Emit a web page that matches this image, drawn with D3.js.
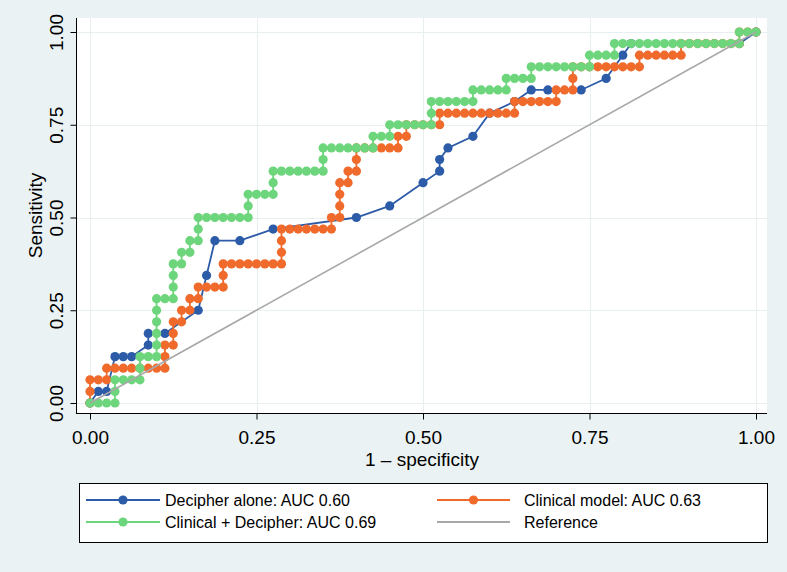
<!DOCTYPE html>
<html><head><meta charset="utf-8">
<script src="https://cdn.jsdelivr.net/npm/d3@7"></script>
<style>
html,body{margin:0;padding:0;background:#eaf2f3;}
svg{display:block;font-family:"Liberation Sans",Arial,Helvetica,sans-serif;}
</style>
</head><body>
<svg id="chart" width="787" height="572"></svg>
<script>
// ---- data (counts of false positives out of 80 negatives, true positives out of 32 positives) ----
const nNegatives = 80;
const nPositives = 32;

const decipherFP = [0,1,2,3,4,5,7,7,9,13,14,15,18,22,32,36,40,42,42,43,46,48,51,53,55,59,62,64,65,78,80];
const decipherTP = [0,1,1,4,4,4,5,6,6,8,11,14,14,15,16,17,19,20,21,22,23,25,26,27,27,27,28,30,31,31,32];

const clinicalFP = [0,0,0,1,2,2,3,4,5,6,7,8,9,9,9,10,10,10,11,11,12,12,13,13,14,15,16,16,16,17,18,19,20,21,22,23,23,23,23,24,25,26,27,28,29,29,30,30,30,30,31,31,32,32,32,33,34,35,36,37,37,38,38,39,40,41,42,42,43,44,45,46,47,48,49,50,51,51,52,53,54,55,56,56,57,58,58,58,59,60,61,62,63,64,65,66,66,67,68,69,70,71,71,72,73,74,75,76,77,78,78,79,80];
const clinicalTP = [0,1,2,2,2,3,3,3,3,3,3,3,3,4,5,5,6,7,7,8,8,9,9,10,10,10,10,11,12,12,12,12,12,12,12,12,13,14,15,15,15,15,15,15,15,16,16,17,18,19,19,20,20,21,22,22,22,22,22,22,23,23,24,24,24,24,24,25,25,25,25,25,25,25,25,25,25,26,26,26,26,26,26,27,27,27,28,29,29,29,29,29,29,29,29,29,30,30,30,30,30,30,31,31,31,31,31,31,31,31,32,32,32];

const combinedFP = [0,1,2,3,3,3,4,5,6,6,6,7,8,8,8,8,8,8,9,10,10,10,10,11,11,12,12,13,13,13,14,15,16,17,18,19,19,19,20,21,22,22,22,23,24,25,26,27,28,28,28,29,30,31,32,33,34,34,35,36,36,37,38,39,40,41,41,41,42,43,44,45,46,46,47,48,49,50,50,51,52,53,53,54,55,56,57,58,59,60,60,61,62,63,63,64,65,66,67,68,69,70,71,72,73,74,75,76,77,78,78,79,80];
const combinedTP = [0,0,0,0,1,2,2,2,2,3,4,4,4,5,6,7,8,9,9,9,10,11,12,12,13,13,14,14,15,16,16,16,16,16,16,16,17,18,18,18,18,19,20,20,20,20,20,20,20,21,22,22,22,22,22,22,22,23,23,23,24,24,24,24,24,24,25,26,26,26,26,26,26,27,27,27,27,27,28,28,28,28,29,29,29,29,29,29,29,29,30,30,30,30,31,31,31,31,31,31,31,31,31,31,31,31,31,31,31,31,32,32,32];

const referenceX = [0, 1];
const referenceY = [0, 1];

const tickValues = [0, 0.25, 0.5, 0.75, 1];
const legendLabels = ["Decipher alone: AUC 0.60", "Clinical model: AUC 0.63", "Clinical + Decipher: AUC 0.69", "Reference"];
const seriesColors = ["#2c5ba8", "#ef6a2b", "#6dd67c", "#a8a8a8"];

// ---- layout ----
const W = 787, H = 572;
const plot = {left: 77, right: 767, top: 18, bottom: 413};
const x = d3.scaleLinear().domain([0, 1]).range([90, 756]);
const y = d3.scaleLinear().domain([0, 1]).range([403, 32]);

const svg = d3.select("#chart");
svg.append("rect").attr("width", W).attr("height", H).attr("fill", "#eaf2f3");
svg.append("rect").attr("x", plot.left).attr("y", plot.top)
  .attr("width", plot.right - plot.left).attr("height", plot.bottom - plot.top).attr("fill", "#ffffff");

// gridlines
const grid = svg.append("g");
grid.selectAll("line.h").data(tickValues).join("line")
  .attr("x1", plot.left).attr("x2", plot.right)
  .attr("y1", d => Math.round(y(d)) + 0.5).attr("y2", d => Math.round(y(d)) + 0.5)
  .attr("stroke", "#e8eff1").attr("stroke-width", 1);
grid.selectAll("line.v").data(tickValues).join("line")
  .attr("y1", plot.top).attr("y2", plot.bottom)
  .attr("x1", d => Math.round(x(d)) + 0.5).attr("x2", d => Math.round(x(d)) + 0.5)
  .attr("stroke", "#e8eff1").attr("stroke-width", 1);

// axes
const fmt = d3.format(".2f");
const xAxis = svg.append("g").attr("transform", `translate(0,${plot.bottom + 0.5})`)
  .call(d3.axisBottom(x).tickValues(tickValues).tickFormat(fmt).tickSize(6).tickSizeOuter(0));
xAxis.select(".domain").remove();
xAxis.selectAll("line").attr("stroke", "#000");
xAxis.selectAll("text").attr("y", 30).attr("dy", 0).attr("font-size", 19)
  .attr("font-family", '"Liberation Sans",Arial,sans-serif').attr("fill", "#000");
xAxis.append("line").attr("x1", plot.left - 1).attr("x2", plot.right).attr("y1", 0).attr("y2", 0).attr("stroke", "#000");

const yAxis = svg.append("g").attr("transform", `translate(${plot.left - 0.5},0)`)
  .call(d3.axisLeft(y).tickValues(tickValues).tickFormat(fmt).tickSize(6).tickSizeOuter(0));
yAxis.select(".domain").remove();
yAxis.selectAll("line").attr("stroke", "#000");
yAxis.selectAll("text").attr("x", 0).attr("dy", 0).attr("text-anchor", "middle")
  .attr("transform", "translate(-14,0) rotate(-90)").attr("font-size", 19)
  .attr("font-family", '"Liberation Sans",Arial,sans-serif').attr("fill", "#000");
yAxis.append("line").attr("x1", 0).attr("x2", 0).attr("y1", plot.top).attr("y2", plot.bottom + 1).attr("stroke", "#000");

// axis titles
svg.append("text").attr("x", (plot.left + plot.right) / 2).attr("y", 466)
  .attr("text-anchor", "middle").attr("font-size", 19).text("1 \u2013 specificity");
svg.append("text").attr("transform", `translate(42,${(plot.top + plot.bottom) / 2}) rotate(-90)`)
  .attr("text-anchor", "middle").attr("font-size", 19).text("Sensitivity");

// curves
function toPoints(fp, tp) {
  return fp.map((f, i) => ({fx: f / nNegatives, ty: tp[i] / nPositives}));
}
const series = [
  toPoints(decipherFP, decipherTP),
  toPoints(clinicalFP, clinicalTP),
  toPoints(combinedFP, combinedTP)
];
const line = d3.line().x(d => x(d.fx)).y(d => y(d.ty));
const curves = svg.append("g");
series.forEach((pts, i) => {
  const g = curves.append("g");
  g.append("path").datum(pts).attr("d", line).attr("fill", "none")
    .attr("stroke", seriesColors[i]).attr("stroke-width", 1.8);
  g.selectAll("circle").data(pts).join("circle")
    .attr("cx", d => x(d.fx)).attr("cy", d => y(d.ty)).attr("r", 4.6)
    .attr("fill", seriesColors[i]);
});
// reference line
svg.append("path").datum(referenceX.map((v, i) => ({fx: v, ty: referenceY[i]})))
  .attr("d", line).attr("fill", "none").attr("stroke", seriesColors[3]).attr("stroke-width", 1.6);

// legend
const lg = svg.append("g");
lg.append("rect").attr("x", 79.5).attr("y", 483.5).attr("width", 688).attr("height", 59)
  .attr("fill", "#fff").attr("stroke", "#000").attr("stroke-width", 1);
const legendPos = [
  {x1: 86, x2: 160, tx: 165, cy: 500},
  {x1: 437, x2: 510, tx: 524, cy: 500},
  {x1: 86, x2: 160, tx: 165, cy: 522},
  {x1: 437, x2: 510, tx: 524, cy: 522}
];
legendLabels.forEach((lab, i) => {
  const p = legendPos[i];
  lg.append("line").attr("x1", p.x1).attr("x2", p.x2).attr("y1", p.cy).attr("y2", p.cy)
    .attr("stroke", seriesColors[i]).attr("stroke-width", 1.8);
  if (i < 3) lg.append("circle").attr("cx", (p.x1 + p.x2) / 2).attr("cy", p.cy).attr("r", 4.6).attr("fill", seriesColors[i]);
  lg.append("text").attr("x", p.tx).attr("y", p.cy).attr("dy", "0.35em")
    .attr("font-size", 16).text(lab);
});
</script>
</body></html>
